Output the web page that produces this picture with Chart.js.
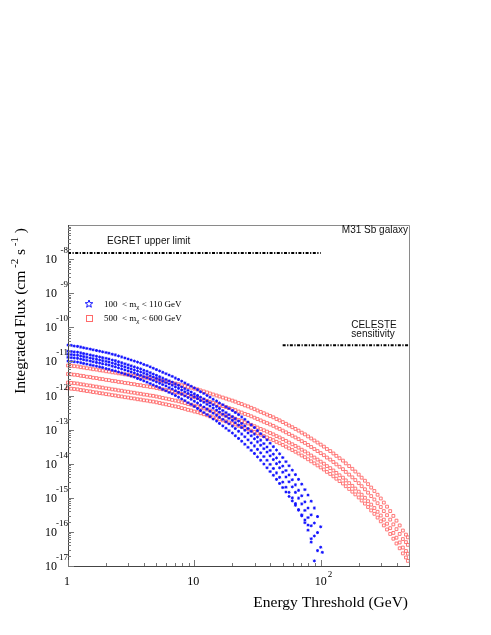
<!DOCTYPE html>
<html>
<head>
<meta charset="utf-8">
<script src="https://cdn.jsdelivr.net/npm/chart.js@4.4.1/dist/chart.umd.min.js"></script>
<style>
  html, body { margin: 0; padding: 0; background: #fff; }
  #wrap { width: 491px; height: 635px; }
</style>
</head>
<body>
<div id="wrap"><canvas id="fluxChart" width="491" height="635"></canvas></div>
<script>
// energy thresholds (GeV) of the scan points
const blueEnergy = [1, 1.06, 1.12, 1.19, 1.26, 1.33, 1.41, 1.50, 1.58, 1.68, 1.78, 1.88, 2.00, 2.11, 2.24, 2.37, 2.51, 2.66, 2.82, 2.99,
  3.16, 3.35, 3.55, 3.76, 3.98, 4.22, 4.47, 4.73, 5.01, 5.31, 5.62, 5.96, 6.31, 6.68, 7.08, 7.50, 7.94, 8.41, 8.91, 9.44,
  10, 10.6, 11.2, 11.9, 12.6, 13.3, 14.1, 15.0, 15.8, 16.8, 17.8, 18.8, 20.0, 21.1, 22.4, 23.7, 25.1, 26.6, 28.2, 29.9,
  31.6, 33.5, 35.5, 37.6, 39.8, 42.2, 44.7, 47.3, 50.1, 53.1, 56.2, 59.6, 63.1, 66.8, 70.8, 75.0, 79.4, 84.1, 89.1, 94.4,
  100, 103];
const redEnergy = [1, 1.06, 1.12, 1.19, 1.26, 1.33, 1.41, 1.50, 1.58, 1.68, 1.78, 1.88, 2.00, 2.11, 2.24, 2.37, 2.51, 2.66, 2.82, 2.99,
  3.16, 3.35, 3.55, 3.76, 3.98, 4.22, 4.47, 4.73, 5.01, 5.31, 5.62, 5.96, 6.31, 6.68, 7.08, 7.50, 7.94, 8.41, 8.91, 9.44,
  10, 10.6, 11.2, 11.9, 12.6, 13.3, 14.1, 15.0, 15.8, 16.8, 17.8, 18.8, 20.0, 21.1, 22.4, 23.7, 25.1, 26.6, 28.2, 29.9,
  31.6, 33.5, 35.5, 37.6, 39.8, 42.2, 44.7, 47.3, 50.1, 53.1, 56.2, 59.6, 63.1, 66.8, 70.8, 75.0, 79.4, 84.1, 89.1, 94.4,
  100, 106, 112, 119, 126, 133, 141, 150, 158, 168, 178, 188, 200, 211, 224, 237, 251, 266, 282, 299,
  316, 335, 355, 376, 398, 422, 447, 473, 490];

// log10 of integrated flux (cm^-2 s^-1), 100 < m_chi < 110 GeV models
const blueModel1 = [-10.52, -10.53, -10.55, -10.56, -10.58, -10.60, -10.62, -10.64, -10.66, -10.68,
  -10.70, -10.72, -10.74, -10.76, -10.79, -10.81, -10.84, -10.87, -10.90, -10.93,
  -10.96, -10.99, -11.02, -11.05, -11.09, -11.12, -11.16, -11.20, -11.24, -11.28,
  -11.32, -11.36, -11.40, -11.44, -11.49, -11.53, -11.58, -11.63, -11.68, -11.73,
  -11.78, -11.83, -11.89, -11.94, -12.00, -12.05, -12.11, -12.16, -12.22, -12.27,
  -12.33, -12.38, -12.44, -12.50, -12.56, -12.63, -12.70, -12.78, -12.86, -12.94,
  -13.03, -13.12, -13.21, -13.30, -13.40, -13.50, -13.60, -13.71, -13.82, -13.94,
  -14.06, -14.19, -14.32, -14.46, -14.60, -14.76, -14.92, -15.10, -15.30, -15.55,
  -15.85, -16.60];
const blueModel2 = [-10.70, -10.71, -10.72, -10.73, -10.75, -10.77, -10.79, -10.81, -10.83, -10.85,
  -10.87, -10.89, -10.91, -10.93, -10.96, -10.98, -11.01, -11.04, -11.07, -11.10,
  -11.13, -11.16, -11.19, -11.22, -11.26, -11.29, -11.33, -11.37, -11.41, -11.45,
  -11.49, -11.53, -11.57, -11.61, -11.66, -11.70, -11.75, -11.80, -11.85, -11.90,
  -11.95, -12.00, -12.05, -12.10, -12.16, -12.21, -12.27, -12.32, -12.38, -12.44,
  -12.50, -12.56, -12.62, -12.68, -12.75, -12.82, -12.89, -12.97, -13.05, -13.13,
  -13.22, -13.31, -13.41, -13.51, -13.61, -13.72, -13.83, -13.95, -14.07, -14.20,
  -14.33, -14.47, -14.62, -14.78, -14.94, -15.12, -15.30, -15.50, -15.74, -16.02,
  -16.45, null];
const blueModel3 = [-10.79, -10.80, -10.81, -10.82, -10.84, -10.86, -10.88, -10.90, -10.92, -10.94,
  -10.96, -10.98, -11.00, -11.02, -11.05, -11.07, -11.10, -11.13, -11.16, -11.19,
  -11.22, -11.25, -11.28, -11.31, -11.35, -11.38, -11.42, -11.46, -11.50, -11.54,
  -11.58, -11.62, -11.66, -11.70, -11.75, -11.79, -11.84, -11.89, -11.94, -11.99,
  -12.04, -12.09, -12.15, -12.20, -12.26, -12.31, -12.37, -12.43, -12.49, -12.55,
  -12.61, -12.67, -12.73, -12.80, -12.87, -12.94, -13.02, -13.10, -13.18, -13.27,
  -13.36, -13.46, -13.56, -13.66, -13.77, -13.88, -14.00, -14.12, -14.25, -14.39,
  -14.53, -14.68, -14.84, -15.01, -15.18, -15.37, -15.58, -15.82, -16.12, -16.55,
  null, null];
const blueModel4 = [-10.88, -10.89, -10.90, -10.91, -10.93, -10.95, -10.97, -10.99, -11.01, -11.03,
  -11.05, -11.07, -11.09, -11.11, -11.14, -11.16, -11.19, -11.22, -11.25, -11.28,
  -11.31, -11.34, -11.38, -11.41, -11.45, -11.48, -11.52, -11.56, -11.60, -11.64,
  -11.68, -11.72, -11.77, -11.81, -11.86, -11.91, -11.96, -12.01, -12.06, -12.11,
  -12.17, -12.22, -12.28, -12.34, -12.40, -12.46, -12.52, -12.58, -12.64, -12.70,
  -12.77, -12.83, -12.90, -12.97, -13.05, -13.13, -13.21, -13.30, -13.39, -13.48,
  -13.58, -13.68, -13.79, -13.90, -14.02, -14.14, -14.27, -14.40, -14.54, -14.69,
  -14.84, -15.00, -15.17, -15.35, -15.53, -15.73, -15.95, -16.30, -16.85, null,
  null, null];
const blueModel5 = [-10.99, -11.00, -11.01, -11.02, -11.04, -11.06, -11.08, -11.10, -11.12, -11.14,
  -11.16, -11.18, -11.21, -11.23, -11.26, -11.28, -11.31, -11.34, -11.37, -11.40,
  -11.43, -11.46, -11.50, -11.53, -11.57, -11.61, -11.65, -11.69, -11.73, -11.77,
  -11.82, -11.86, -11.91, -11.95, -12.00, -12.05, -12.10, -12.15, -12.21, -12.26,
  -12.32, -12.38, -12.44, -12.50, -12.56, -12.62, -12.69, -12.75, -12.82, -12.89,
  -12.96, -13.03, -13.10, -13.18, -13.26, -13.34, -13.43, -13.52, -13.61, -13.70,
  -13.80, -13.90, -14.01, -14.12, -14.23, -14.34, -14.46, -14.58, -14.70, -14.83,
  -14.96, -15.09, -15.22, -15.36, -15.50, -15.65, -15.80, -16.20, null, null,
  null, null];

// log10 of integrated flux, 500 < m_chi < 600 GeV models
const redModel1 = [-11.12, -11.13, -11.14, -11.15, -11.17, -11.18, -11.20, -11.21, -11.23, -11.24,
  -11.26, -11.27, -11.29, -11.30, -11.32, -11.33, -11.35, -11.36, -11.38, -11.39,
  -11.41, -11.42, -11.44, -11.45, -11.47, -11.48, -11.50, -11.51, -11.53, -11.55,
  -11.57, -11.59, -11.61, -11.63, -11.65, -11.67, -11.70, -11.72, -11.75, -11.77,
  -11.80, -11.82, -11.85, -11.88, -11.91, -11.94, -11.97, -12.00, -12.03, -12.06,
  -12.09, -12.12, -12.15, -12.18, -12.22, -12.25, -12.29, -12.32, -12.36, -12.40,
  -12.44, -12.48, -12.52, -12.56, -12.60, -12.64, -12.69, -12.73, -12.78, -12.83,
  -12.88, -12.93, -12.98, -13.03, -13.09, -13.14, -13.20, -13.26, -13.32, -13.38,
  -13.44, -13.50, -13.57, -13.63, -13.70, -13.77, -13.84, -13.91, -13.99, -14.07,
  -14.15, -14.23, -14.32, -14.41, -14.50, -14.60, -14.70, -14.80, -14.91, -15.02,
  -15.14, -15.26, -15.39, -15.53, -15.67, -15.81, -15.96, -16.08, -16.16];
const redModel2 = [-11.37, -11.38, -11.39, -11.40, -11.42, -11.43, -11.45, -11.46, -11.48, -11.49,
  -11.51, -11.52, -11.54, -11.55, -11.57, -11.58, -11.60, -11.61, -11.63, -11.64,
  -11.66, -11.67, -11.69, -11.70, -11.72, -11.73, -11.75, -11.76, -11.78, -11.80,
  -11.82, -11.84, -11.86, -11.88, -11.90, -11.92, -11.95, -11.97, -12.00, -12.02,
  -12.05, -12.07, -12.10, -12.13, -12.16, -12.19, -12.22, -12.25, -12.28, -12.31,
  -12.34, -12.37, -12.40, -12.43, -12.47, -12.50, -12.54, -12.57, -12.61, -12.65,
  -12.69, -12.73, -12.77, -12.81, -12.85, -12.89, -12.94, -12.98, -13.03, -13.08,
  -13.13, -13.18, -13.23, -13.28, -13.34, -13.39, -13.45, -13.51, -13.57, -13.63,
  -13.69, -13.75, -13.82, -13.88, -13.95, -14.02, -14.09, -14.16, -14.24, -14.32,
  -14.40, -14.48, -14.57, -14.66, -14.75, -14.85, -14.95, -15.05, -15.16, -15.27,
  -15.39, -15.51, -15.64, -15.78, -15.92, -16.06, -16.21, -16.30, -16.38];
const redModel3 = [-11.62, -11.63, -11.64, -11.65, -11.67, -11.68, -11.70, -11.71, -11.73, -11.74,
  -11.76, -11.77, -11.79, -11.80, -11.82, -11.83, -11.85, -11.86, -11.88, -11.89,
  -11.91, -11.92, -11.94, -11.95, -11.97, -11.98, -12.00, -12.01, -12.03, -12.05,
  -12.07, -12.09, -12.11, -12.13, -12.15, -12.17, -12.20, -12.22, -12.25, -12.27,
  -12.30, -12.32, -12.35, -12.38, -12.41, -12.44, -12.47, -12.50, -12.53, -12.56,
  -12.59, -12.62, -12.65, -12.68, -12.72, -12.75, -12.79, -12.82, -12.86, -12.90,
  -12.94, -12.98, -13.02, -13.06, -13.10, -13.14, -13.19, -13.23, -13.28, -13.33,
  -13.38, -13.43, -13.48, -13.53, -13.59, -13.64, -13.70, -13.76, -13.82, -13.88,
  -13.94, -14.00, -14.07, -14.13, -14.20, -14.27, -14.34, -14.41, -14.49, -14.57,
  -14.65, -14.73, -14.82, -14.91, -15.00, -15.10, -15.20, -15.30, -15.41, -15.52,
  -15.64, -15.76, -15.89, -16.03, -16.17, -16.31, -16.46, -16.56, -16.64];
const redModel4 = [-11.79, -11.80, -11.81, -11.82, -11.84, -11.85, -11.87, -11.88, -11.90, -11.91,
  -11.93, -11.94, -11.96, -11.97, -11.99, -12.00, -12.02, -12.03, -12.05, -12.06,
  -12.08, -12.09, -12.11, -12.12, -12.14, -12.15, -12.17, -12.18, -12.20, -12.22,
  -12.24, -12.26, -12.28, -12.30, -12.32, -12.34, -12.37, -12.39, -12.42, -12.44,
  -12.47, -12.49, -12.52, -12.55, -12.58, -12.61, -12.64, -12.67, -12.70, -12.73,
  -12.76, -12.79, -12.82, -12.85, -12.89, -12.92, -12.96, -12.99, -13.03, -13.07,
  -13.11, -13.15, -13.19, -13.23, -13.27, -13.31, -13.36, -13.40, -13.45, -13.50,
  -13.55, -13.60, -13.65, -13.70, -13.76, -13.81, -13.87, -13.93, -13.99, -14.05,
  -14.11, -14.17, -14.24, -14.30, -14.37, -14.44, -14.51, -14.58, -14.66, -14.74,
  -14.82, -14.90, -14.99, -15.08, -15.17, -15.27, -15.37, -15.47, -15.58, -15.69,
  -15.81, -15.93, -16.06, -16.20, -16.34, -16.48, -16.63, -16.75, -16.85];

// reference limits
const egretEnergy = [1, 100];
const egretFlux = [1.5e-8, 1.5e-8];
const celesteEnergy = [50, 500];
const celesteFlux = [3e-11, 3e-11];

// axes
const xTickValues = [1, 10, 100];
const xTickExponents = [0, 1, 2];
const yTickExponents = [-17, -16, -15, -14, -13, -12, -11, -10, -9, -8];

const blueCurves = [blueModel1, blueModel2, blueModel3, blueModel4, blueModel5];
const redCurves = [redModel1, redModel2, redModel3, redModel4];

const BLUE = '#1414ff';
const RED = '#ff6a6a';
const SERIF = '"Liberation Serif", "Times New Roman", serif';
const SANS = '"Liberation Sans", Arial, sans-serif';

function toPoints(energies, logFlux) {
  const pts = [];
  logFlux.forEach((v, i) => {
    if (v !== null) pts.push({ x: energies[i], y: Math.pow(10, v) });
  });
  return pts;
}

function limitLine(energies, fluxes) {
  return {
    data: energies.map((e, i) => ({ x: e, y: fluxes[i] })),
    showLine: true,
    pointRadius: 0,
    borderColor: '#000',
    borderWidth: 2,
    borderDash: [3, 1.5, 1.2, 1.5]
  };
}

const datasets = [];
blueCurves.forEach(c => datasets.push({
  data: toPoints(blueEnergy, c),
  pointStyle: 'star',
  pointRadius: 1.5,
  borderWidth: 1,
  borderColor: BLUE,
  backgroundColor: BLUE,
  clip: 3
}));
redCurves.forEach(c => datasets.push({
  data: toPoints(redEnergy, c),
  pointStyle: 'rect',
  pointRadius: 2,
  borderWidth: 0.9,
  borderColor: RED,
  backgroundColor: 'rgba(0,0,0,0)',
  clip: 3
}));
datasets.push(limitLine(egretEnergy, egretFlux));
datasets.push(limitLine(celesteEnergy, celesteFlux));

// text pieces drawn one after another: [text, font, dy]
function drawRich(ctx, parts, x, y, align) {
  let total = 0;
  parts.forEach(p => { ctx.font = p[1]; total += ctx.measureText(p[0]).width; });
  let cx = align === 'right' ? x - total : align === 'center' ? x - total / 2 : x;
  ctx.textAlign = 'left';
  parts.forEach(p => {
    ctx.font = p[1];
    ctx.fillText(p[0], cx, y + p[2]);
    cx += ctx.measureText(p[0]).width;
  });
}

function starPath(ctx, x, y, r) {
  ctx.beginPath();
  for (let i = 0; i < 10; i++) {
    const a = -Math.PI / 2 + i * Math.PI / 5;
    const rr = i % 2 === 0 ? r : r * 0.42;
    const px = x + rr * Math.cos(a), py = y + rr * Math.sin(a);
    if (i === 0) ctx.moveTo(px, py); else ctx.lineTo(px, py);
  }
  ctx.closePath();
}

const frameAndLabels = {
  id: 'frameAndLabels',
  afterDatasetsDraw(chart) {
    const ctx = chart.ctx;
    const xs = chart.scales.x, ys = chart.scales.y;
    const { left, right, top, bottom } = chart.chartArea;
    ctx.save();

    // frame
    ctx.lineWidth = 1;
    ctx.strokeStyle = '#8a8a8a';
    ctx.beginPath();
    ctx.moveTo(left, top + 0.5); ctx.lineTo(right + 0.5, top + 0.5); ctx.lineTo(right + 0.5, bottom);
    ctx.stroke();
    ctx.strokeStyle = '#444';
    ctx.beginPath();
    ctx.moveTo(left + 0.5, top); ctx.lineTo(left + 0.5, bottom + 0.5); ctx.lineTo(right + 1, bottom + 0.5);
    ctx.stroke();

    // ticks
    ctx.strokeStyle = '#777';
    ctx.beginPath();
    yTickExponents.forEach(e => {
      for (let m = 1; m <= 9; m++) {
        const py = Math.round(ys.getPixelForValue(m * Math.pow(10, e))) + 0.5;
        if (py < top) continue;
        ctx.moveTo(left, py); ctx.lineTo(left + (m === 1 ? 6 : 3), py);
      }
    });
    xTickValues.forEach(v => {
      for (let m = 1; m <= 9; m++) {
        const val = m * v;
        if (val > xs.max) continue;
        const px = Math.round(xs.getPixelForValue(val)) + 0.5;
        ctx.moveTo(px, bottom); ctx.lineTo(px, bottom - (m === 1 ? 6 : 3));
      }
    });
    ctx.stroke();

    // tick labels
    ctx.fillStyle = '#000';
    ctx.textBaseline = 'alphabetic';
    yTickExponents.forEach(e => {
      const py = ys.getPixelForValue(Math.pow(10, e));
      ctx.font = '12px ' + SERIF;
      ctx.textAlign = 'right';
      ctx.fillText('10', left - 11, py + 4);
      ctx.font = '9px ' + SERIF;
      ctx.fillText(String(e), left, py - 6);
    });
    xTickValues.forEach((v, i) => {
      const px = xs.getPixelForValue(v);
      const ex = xTickExponents[i];
      ctx.font = '12px ' + SERIF;
      ctx.textAlign = 'center';
      if (ex === 0) ctx.fillText('1', px - 1, bottom + 19);
      else if (ex === 1) ctx.fillText('10', px - 1, bottom + 19);
      else {
        ctx.fillText('10', px, bottom + 19);
        ctx.font = '9px ' + SERIF;
        ctx.textAlign = 'left';
        ctx.fillText(String(ex), px + 7, bottom + 11);
      }
    });

    // axis titles
    const big = '15.5px ' + SERIF, sup = '11px ' + SERIF;
    drawRich(ctx, [['Energy Threshold (GeV)', big, 0]], right - 1, bottom + 41, 'right');
    ctx.save();
    ctx.translate(25, top + 3);
    ctx.rotate(-Math.PI / 2);
    drawRich(ctx, [['Integrated Flux (cm', big, 0], [' -2', sup, -7], [' s', big, 0], [' -1', sup, -7], [' )', big, 0]], 0, 0, 'right');
    ctx.restore();

    // annotations
    ctx.font = '10px ' + SANS;
    ctx.fillStyle = '#111';
    ctx.textAlign = 'left';
    ctx.fillText('EGRET upper limit', left + 39, top + 19);
    ctx.textAlign = 'right';
    ctx.fillText('M31 Sb galaxy', right - 1, top + 8);
    ctx.textAlign = 'center';
    ctx.fillText('CELESTE', right - 35, top + 103);
    ctx.fillText('sensitivity', right - 36, top + 112);

    // legend
    ctx.lineWidth = 1;
    ctx.strokeStyle = BLUE;
    starPath(ctx, left + 21, top + 79, 4);
    ctx.stroke();
    ctx.strokeStyle = RED;
    ctx.strokeRect(left + 18.5, top + 90.5, 6, 6);
    ctx.fillStyle = '#000';
    const lf = '9px ' + SERIF, lsub = '7px ' + SERIF;
    drawRich(ctx, [['100  < m', lf, 0], ['\u03c7', lsub, 2], [' < 110 GeV', lf, 0]], left + 36, top + 82, 'left');
    drawRich(ctx, [['500  < m', lf, 0], ['\u03c7', lsub, 2], [' < 600 GeV', lf, 0]], left + 36, top + 96, 'left');

    ctx.restore();
  }
};

new Chart(document.getElementById('fluxChart'), {
  type: 'scatter',
  data: { datasets: datasets },
  options: {
    responsive: false,
    animation: false,
    layout: { padding: { left: 68, right: 82, top: 225, bottom: 69 } },
    plugins: { legend: { display: false }, tooltip: { enabled: false } },
    scales: {
      x: {
        type: 'logarithmic', min: 1, max: 500,
        ticks: { display: false }, grid: { display: false }, border: { display: false },
        afterFit: s => { s.height = 0; }
      },
      y: {
        type: 'logarithmic', min: 1e-17, max: 1e-7,
        ticks: { display: false }, grid: { display: false }, border: { display: false },
        afterFit: s => { s.width = 0; }
      }
    }
  },
  plugins: [frameAndLabels]
});
</script>
</body>
</html>
